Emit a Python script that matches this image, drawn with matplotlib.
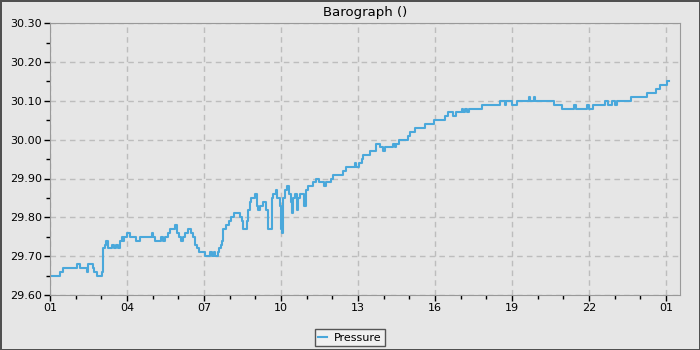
import numpy as np
import matplotlib
matplotlib.use('Agg')
import matplotlib.pyplot as plt
from matplotlib.ticker import FixedLocator, MultipleLocator, FuncFormatter

# time in hours (01:00 of day 1 = 1.0, 01:00 of next day = 25.0), pressure in inHg
hours = [1.08, 1.39, 1.51, 2.07, 2.17, 2.44, 2.50, 2.66, 2.71, 2.83,
         3.01, 3.05, 3.08, 3.14, 3.20, 3.28, 3.42, 3.49, 3.57, 3.67,
         3.73, 3.79, 3.84, 3.90, 4.00, 4.12, 4.37, 4.51, 4.97, 5.03,
         5.09, 5.31, 5.42, 5.48, 5.60, 5.68, 5.89, 5.95, 6.03, 6.12,
         6.18, 6.26, 6.36, 6.51, 6.57, 6.65, 6.73, 6.79, 7.04, 7.25,
         7.31, 7.41, 7.45, 7.56, 7.60, 7.66, 7.72, 7.75, 7.86, 7.99,
         8.07, 8.17, 8.40, 8.48, 8.53, 8.66, 8.70, 8.79, 8.83, 8.97,
         9.05, 9.12, 9.18, 9.31, 9.40, 9.50, 9.66, 9.71, 9.80, 9.86,
         9.96, 10.02, 10.06, 10.09, 10.17, 10.23, 10.31, 10.39, 10.45, 10.48,
         10.55, 10.64, 10.68, 10.76, 10.88, 10.99, 11.05, 11.25, 11.38, 11.50,
         11.66, 11.77, 11.97, 12.04, 12.43, 12.53, 12.88, 12.94, 13.05, 13.14,
         13.21, 13.47, 13.72, 13.86, 13.99, 14.07, 14.35, 14.44, 14.50, 14.61,
         14.96, 15.03, 15.22, 15.61, 15.96, 16.39, 16.52, 16.71, 16.84, 17.04,
         17.09, 17.17, 17.25, 17.32, 17.82, 18.53, 18.73, 18.78, 18.99, 19.18,
         19.66, 19.72, 19.86, 19.91, 20.64, 20.94, 21.42, 21.48, 21.91, 22.01,
         22.17, 22.62, 22.76, 22.90, 23.01, 23.08, 23.66, 24.27, 24.61, 24.76,
         25.05, 25.12]
pressure = [29.65, 29.66, 29.67, 29.68, 29.67, 29.66, 29.68, 29.67, 29.66, 29.65,
            29.66, 29.68, 29.72, 29.73, 29.74, 29.72, 29.73, 29.72, 29.73, 29.72,
            29.74, 29.75, 29.74, 29.75, 29.76, 29.75, 29.74, 29.75, 29.76, 29.75,
            29.74, 29.75, 29.74, 29.75, 29.76, 29.77, 29.78, 29.76, 29.75, 29.74,
            29.75, 29.76, 29.77, 29.76, 29.75, 29.73, 29.72, 29.71, 29.70, 29.71,
            29.70, 29.71, 29.70, 29.71, 29.72, 29.73, 29.74, 29.77, 29.78, 29.79,
            29.80, 29.81, 29.80, 29.79, 29.77, 29.79, 29.82, 29.84, 29.85, 29.86,
            29.83, 29.82, 29.83, 29.84, 29.82, 29.77, 29.85, 29.86, 29.87, 29.85,
            29.83, 29.77, 29.76, 29.85, 29.87, 29.88, 29.86, 29.84, 29.81, 29.85,
            29.86, 29.82, 29.85, 29.86, 29.83, 29.87, 29.88, 29.89, 29.90, 29.89,
            29.88, 29.89, 29.90, 29.91, 29.92, 29.93, 29.94, 29.93, 29.94, 29.95,
            29.96, 29.97, 29.99, 29.98, 29.97, 29.98, 29.99, 29.98, 29.99, 30.00,
            30.01, 30.02, 30.03, 30.04, 30.05, 30.06, 30.07, 30.06, 30.07, 30.08,
            30.07, 30.08, 30.07, 30.08, 30.09, 30.10, 30.09, 30.10, 30.09, 30.10,
            30.11, 30.10, 30.11, 30.10, 30.09, 30.08, 30.09, 30.08, 30.09, 30.08,
            30.09, 30.10, 30.09, 30.10, 30.09, 30.10, 30.11, 30.12, 30.13, 30.14,
            30.15, 30.15]

hour_ticks = np.arange(1, 26, 3)

bg = '#e6e6e6'
fig = plt.figure(figsize=(7, 3.5), dpi=100, facecolor=bg, edgecolor='#505050', linewidth=2)
ax = fig.add_axes([0.0714, 0.157, 0.9, 0.777])
ax.set_facecolor(bg)

ax.step(hours, pressure, where='post', color='#4aa8db', lw=1.5, label='Pressure')

ax.set_xlim(1, 25.55)
ax.set_ylim(29.6, 30.3)
ax.xaxis.set_major_locator(FixedLocator(hour_ticks))
ax.xaxis.set_minor_locator(MultipleLocator(1))
ax.xaxis.set_major_formatter(FuncFormatter(lambda h, p: '%02d' % (int(round(h)) % 24)))
ax.yaxis.set_major_locator(MultipleLocator(0.1))
ax.yaxis.set_minor_locator(MultipleLocator(0.05))
ax.yaxis.set_major_formatter(FuncFormatter(lambda v, p: '%.2f' % v))

ax.grid(True, which='major', ls=(0, (4, 3)), color='#bdbdbd', lw=1)
ax.tick_params(which='major', length=4, width=1, color='black', labelsize=8, pad=2)
ax.tick_params(which='minor', length=3, width=1, color='black')
for s in ax.spines.values():
    s.set_color('#999999')
ax.set_axisbelow(True)

ax.set_title('Barograph ()', fontsize=9.5, pad=5)

leg = fig.legend(loc='center', bbox_to_anchor=(0.5, 0.035), fontsize=8, handlelength=0.8,
                 fancybox=False, edgecolor='#555555', facecolor='#f0f0f0', framealpha=1,
                 borderpad=0.3, handletextpad=0.6)
leg.get_frame().set_linewidth(1)

fig.savefig('out.png', dpi=100, facecolor=bg)
